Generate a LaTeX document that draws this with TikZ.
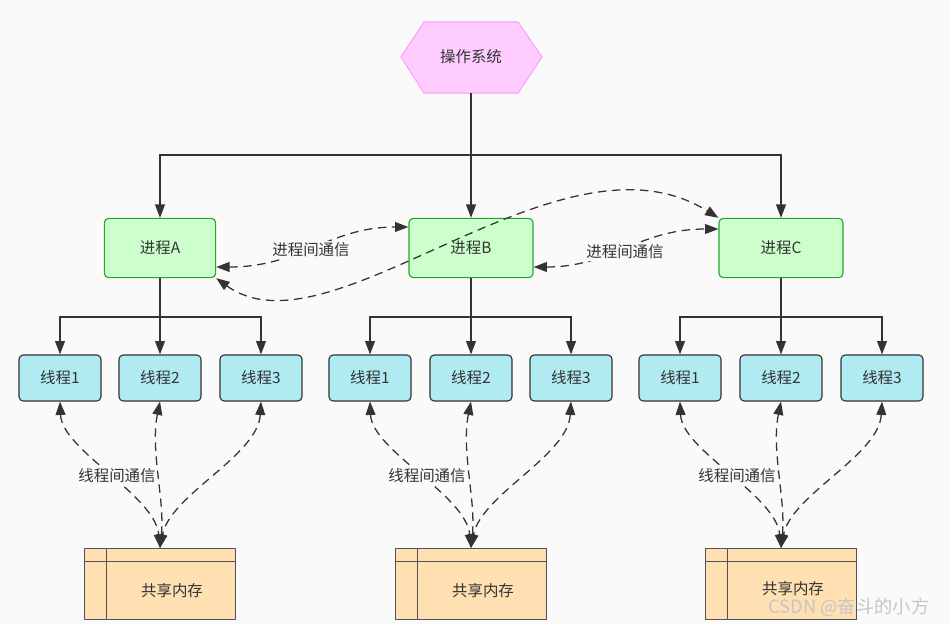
\documentclass[tikz,border=0pt]{standalone}
\usepackage{fontspec}
\setmainfont{Noto Sans CJK SC}
\usetikzlibrary{arrows.meta}
\definecolor{bg}{RGB}{250,250,250}
\definecolor{ink}{RGB}{51,51,51}
\definecolor{osfill}{RGB}{255,204,255}
\definecolor{osline}{RGB}{255,160,255}
\definecolor{procfill}{RGB}{204,255,204}
\definecolor{procline}{RGB}{40,165,40}
\definecolor{thrfill}{RGB}{177,235,242}
\definecolor{memfill}{RGB}{255,224,178}
\tikzset{
  every node/.style={text=ink, font=\fontsize{11}{13}\selectfont},
  proc/.style={draw=procline, fill=procfill, rounded corners=3pt, line width=0.8pt,
               minimum width=3.1cm, minimum height=1.48cm},
  thread/.style={draw=ink, fill=thrfill, rounded corners=3pt, line width=0.8pt,
                 minimum width=2.05cm, minimum height=1.15cm},
  mem/.style={draw=ink!85, fill=memfill, line width=0.8pt,
              minimum width=3.78cm, minimum height=1.78cm},
  link/.style={draw=ink, line width=0.9pt, -{Triangle[length=9.5pt,width=7pt]}},
  talk/.style={draw=ink, line width=0.9pt, dash pattern=on 6pt off 4pt,
               {Triangle[length=9.5pt,width=7pt]}-{Triangle[length=9.5pt,width=7pt]}},
  talklabel/.style={fill=bg, inner sep=1pt}
}
\begin{document}
\begin{tikzpicture}[x=0.025cm, y=-0.025cm] % 1 unit = 1 pixel of the sketch
\def\ospath{(401,57) -- (424,22) -- (518,22) -- (542,57) -- (518,93) -- (424,93) -- cycle}
    \fill[bg] (0,0) rectangle (951,624);
    \useasboundingbox (0,0) rectangle (951,624);
    % operating system
    \filldraw[fill=osfill, draw=osline, line width=0.8pt] \ospath;
    \node[minimum width=3.53cm, minimum height=1.78cm] (os) at (471,57) {操作系统};
    % processes
    \node[proc, minimum width=2.78cm] (pA) at (160,248) {进程A};
    \node[proc] (pB) at (471,248) {进程B};
    \node[proc] (pC) at (781,248) {进程C};
    \coordinate (osbus) at (471,155);
    \draw[link] (os.south) -- (pB.north);
    \draw[link] (osbus) -| (pA.north);
    \draw[link] (osbus) -| (pC.north);
    % threads
    \node[thread] (tA1) at (60,378) {线程1};
    \node[thread] (tA2) at (160,378) {线程2};
    \node[thread] (tA3) at (261,378) {线程3};
    \node[thread] (tB1) at (370,378) {线程1};
    \node[thread] (tB2) at (471,378) {线程2};
    \node[thread] (tB3) at (571,378) {线程3};
    \node[thread] (tC1) at (680,378) {线程1};
    \node[thread] (tC2) at (781,378) {线程2};
    \node[thread] (tC3) at (882,378) {线程3};
    \coordinate (busA) at (160,317);
    \coordinate (busB) at (471,317);
    \coordinate (busC) at (781,317);
    \draw[link] (pA.south) -- (tA2.north);
    \draw[link] (busA) -| (tA1.north);
    \draw[link] (busA) -| (tA3.north);
    \draw[link] (pB.south) -- (tB2.north);
    \draw[link] (busB) -| (tB1.north);
    \draw[link] (busB) -| (tB3.north);
    \draw[link] (pC.south) -- (tC2.north);
    \draw[link] (busC) -| (tC1.north);
    \draw[link] (busC) -| (tC3.north);
    % shared memory
    \node[mem] (memA) at (160,584) {};
    \node[mem] (memB) at (471,584) {};
    \node[mem] (memC) at (781,584) {};
    \draw[ink!85, line width=0.8pt] ([shift={(23,0)}]memA.north west) -- ([shift={(23,0)}]memA.south west)
          ([shift={(0,14)}]memA.north west) -- ([shift={(0,14)}]memA.north east);
    \draw[ink!85, line width=0.8pt] ([shift={(23,0)}]memB.north west) -- ([shift={(23,0)}]memB.south west)
          ([shift={(0,14)}]memB.north west) -- ([shift={(0,14)}]memB.north east);
    \draw[ink!85, line width=0.8pt] ([shift={(23,0)}]memC.north west) -- ([shift={(23,0)}]memC.south west)
          ([shift={(0,14)}]memC.north west) -- ([shift={(0,14)}]memC.north east);
    \node (memAtext) at ([shift={(12,7)}]memA.center) {共享内存};
    \node (memBtext) at ([shift={(12,7)}]memB.center) {共享内存};
    \node (memCtext) at ([shift={(12,5)}]memC.center) {共享内存};
    % thread communication
    \draw[talk] (tA1.south) .. controls +(2,49) and +(-5,-53) .. (memA.north);
    \draw[talk] (tA2.south) .. controls +(-10,49) and +(5,-48) .. (memA.north);
    \draw[talk] (tA3.south) .. controls +(-3,54) and +(10,-53) .. (memA.north);
    \draw[talk] (tB1.south) .. controls +(2,49) and +(-5,-53) .. (memB.north);
    \draw[talk] (tB2.south) .. controls +(-10,49) and +(5,-48) .. (memB.north);
    \draw[talk] (tB3.south) .. controls +(-3,54) and +(10,-53) .. (memB.north);
    \draw[talk] (tC1.south) .. controls +(2,49) and +(-5,-53) .. (memC.north);
    \draw[talk] (tC2.south) .. controls +(-10,49) and +(5,-48) .. (memC.north);
    \draw[talk] (tC3.south) .. controls +(-3,54) and +(10,-53) .. (memC.north);
    \node[talklabel] (tlA) at (117,476) {线程间通信};
    \node[talklabel] (tlB) at (427,476) {线程间通信};
    \node[talklabel] (tlC) at (737,476) {线程间通信};
    % process communication
    \draw[talk] ([shift={(0,19)}]pA.east) .. controls +(85,0) and +(-80,0) .. ([shift={(0,-21)}]pB.west);
    \draw[talk] ([shift={(0,19)}]pB.east) .. controls +(78,0) and +(-80,0) .. ([shift={(0,-19)}]pC.west);
    \draw[talk] (pA.south east) .. controls +(115,83) and +(-159,-99) .. (pC.north west);
    \node[talklabel] (plAB) at (311,250) {进程间通信};
    \node[talklabel] (plBC) at (625,252) {进程间通信};
    \node[text=gray!45, font=\fontsize{13}{15}\selectfont] (wmark) at (849,607) {CSDN @奋斗的小方};
\end{tikzpicture}
\end{document}
